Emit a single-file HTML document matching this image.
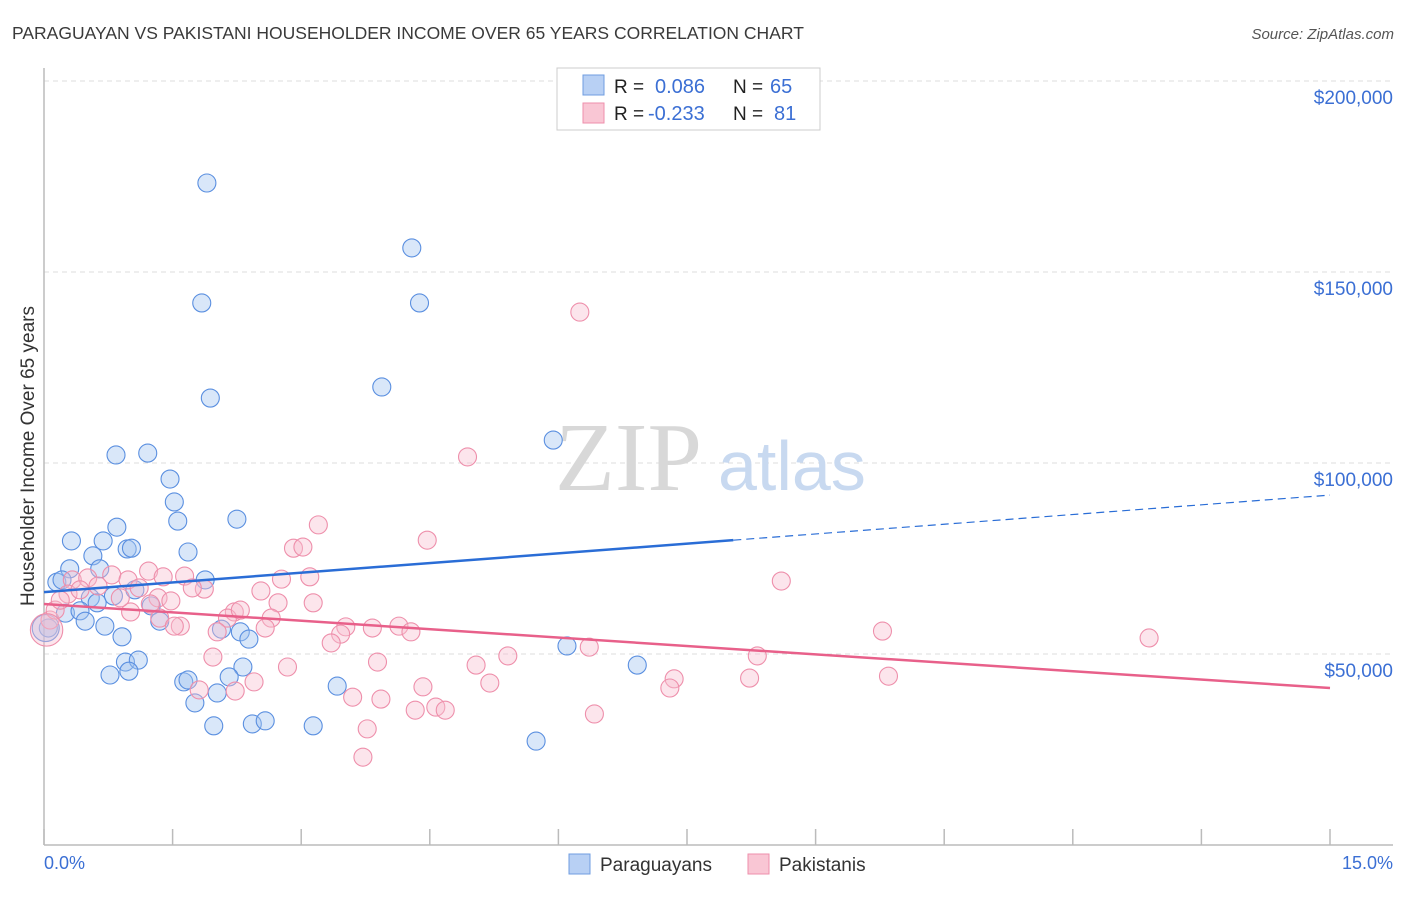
<!DOCTYPE html>
<html><head><meta charset="utf-8"><style>
body{margin:0;background:#fff;font-family:"Liberation Sans",sans-serif}
</style></head><body>
<svg width="1406" height="892" xmlns="http://www.w3.org/2000/svg" font-family="Liberation Sans, sans-serif">
<text x="12" y="39" font-size="17.5" fill="#3a3a3a">PARAGUAYAN VS PAKISTANI HOUSEHOLDER INCOME OVER 65 YEARS CORRELATION CHART</text>
<text x="1394" y="39" font-size="15" fill="#555" font-style="italic" text-anchor="end">Source: ZipAtlas.com</text>
<g id="grid"></g>
<text x="555" y="490" font-size="98" fill="#d8d8d8" font-family="Liberation Serif, serif">ZIP</text>
<text x="718" y="490" font-size="70" fill="#c8d9f0">atlas</text>
<line x1="44" y1="68" x2="44" y2="845" stroke="#bbb" stroke-width="1.5"/>
<line x1="44" y1="845" x2="1393" y2="845" stroke="#bbb" stroke-width="1.5"/>
<g id="ticks"></g>
<g id="pts"></g>
<g id="trend"></g>
<text x="28" y="456" dy="6" font-size="19" fill="#333" text-anchor="middle" transform="rotate(-90 28 456)">Householder Income Over 65 years</text>
<text x="44" y="869" font-size="18" fill="#3b6fd4">0.0%</text>
<text x="1393" y="869" font-size="18" fill="#3b6fd4" text-anchor="end">15.0%</text>
<g>
<rect x="557" y="68" width="263" height="62" fill="#fff" stroke="#ccc"/>
<rect x="583" y="75" width="21" height="20" fill="#b8d0f4" stroke="#6f9de0"/>
<rect x="583" y="103" width="21" height="20" fill="#f9c6d4" stroke="#ee8fab"/>
<text x="614" y="93" font-size="19" fill="#222">R = </text><text x="655" y="93" font-size="20" fill="#3b6fd4">0.086</text>
<text x="733" y="93" font-size="19" fill="#222">N = </text><text x="770" y="93" font-size="20" fill="#3b6fd4">65</text>
<text x="614" y="120" font-size="19" fill="#222">R = </text><text x="648" y="120" font-size="20" fill="#3b6fd4">-0.233</text>
<text x="733" y="120" font-size="19" fill="#222">N = </text><text x="774" y="120" font-size="20" fill="#3b6fd4">81</text>
</g>
<g>
<rect x="569" y="854" width="21" height="20" fill="#b8d0f4" stroke="#6f9de0"/>
<text x="600" y="871" font-size="19" fill="#333">Paraguayans</text>
<rect x="748" y="854" width="21" height="20" fill="#f9c6d4" stroke="#ee8fab"/>
<text x="779" y="871" font-size="19" fill="#333">Pakistanis</text>
</g>
</svg>
<script>
const yTicks=[50000,100000,150000,200000];
const yTickLabels=["$50,000","$100,000","$150,000","$200,000"];
const xTicks=[0,1.5,3,4.5,6,7.5,9,10.5,12,13.5,15];
const blueX=[1.90,4.29,1.84,4.38,3.94,1.94,5.94,0.84,1.21,1.47,1.52,1.56,2.25,0.85,0.32,0.69,0.57,0.97,1.02,1.68,0.30,0.65,0.15,0.21,1.88,1.06,0.54,0.81,0.62,1.25,0.25,0.42,0.48,1.35,0.71,0.05,2.07,2.29,2.39,0.91,6.10,0.95,1.10,2.32,6.92,0.77,0.99,2.16,1.63,1.68,3.42,2.02,1.76,1.98,2.43,2.58,3.14,5.74,0.02];
const blueY=[173.3,156.3,141.9,141.9,119.9,117.0,106.0,102.1,102.6,95.8,89.8,84.8,85.3,83.2,79.6,79.6,75.7,77.5,77.7,76.7,72.3,72.3,68.8,69.4,69.4,66.8,64.7,65.2,63.4,62.6,60.7,61.3,58.6,58.6,57.3,56.8,56.5,55.8,53.9,54.5,52.1,47.9,48.4,46.6,47.1,44.5,45.5,44.0,42.7,43.2,41.6,39.8,37.2,31.2,31.7,32.5,31.2,27.2,56.8];
const blueSize=[1,1,1,1,1,1,1,1,1,1,1,1,1,1,1,1,1,1,1,1,1,1,1,1,1,1,1,1,1,1,1,1,1,1,1,1,1,1,1,1,1,1,1,1,1,1,1,1,1,1,1,1,1,1,1,1,1,1,1.5];
const pinkX=[6.25,4.94,3.20,4.47,2.91,3.02,8.60,2.77,3.10,1.22,0.79,0.33,0.51,0.98,1.39,1.64,1.87,1.73,1.11,2.53,0.63,0.28,1.33,1.48,2.22,2.73,3.14,1.01,1.35,1.59,1.52,2.14,2.65,2.29,2.02,2.58,3.52,3.83,4.14,4.28,3.46,3.35,6.36,8.32,9.78,12.89,5.41,5.04,3.89,2.84,1.97,2.45,2.23,1.81,5.20,7.35,7.30,8.23,9.85,4.42,3.60,3.93,4.33,4.57,4.68,6.42,3.77,3.72,0.07,0.13,0.03,0.19,0.42,0.89,1.24];
const pinkY=[139.5,101.6,83.8,79.8,77.7,78.0,69.1,69.6,70.2,71.7,70.7,69.4,69.9,69.4,70.2,70.4,67.0,67.3,67.3,66.5,67.8,65.7,64.7,63.9,61.0,63.4,63.4,61.0,59.4,57.3,57.3,59.4,59.4,61.5,55.8,56.8,57.1,56.8,57.3,55.8,55.2,52.9,51.8,49.5,56.0,54.2,49.5,47.1,47.9,46.6,49.2,42.7,40.3,40.6,42.4,43.5,41.1,43.7,44.2,41.4,38.7,38.2,35.3,36.1,35.3,34.3,30.4,23.0,58.9,61.5,56.3,64.1,66.8,64.7,63.1];
const pinkSize=pinkX.map((v,i)=>i===70?1.8:1);
const blueTrend=[[0,66.2],[8.04,79.8],[15,91.6]];
const pinkTrend=[[0,63.1],[15,41.1]];
const X=p=>44+p*(1330-44)/15;
const Y=k=>845-k*1000*191/50000;
const NS="http://www.w3.org/2000/svg";
function mk(t,a,parent){const e=document.createElementNS(NS,t);for(const k in a)e.setAttribute(k,a[k]);parent.appendChild(e);return e;}
const grid=document.getElementById('grid');
yTicks.forEach((v,i)=>{const y=Y(v/1000);
const l=mk('line',{x1:44,x2:1393,y1:y,y2:y,stroke:'#ddd','stroke-dasharray':'5,4'},grid);


const t=mk('text',{x:1393,y:y+23,'font-size':19,fill:'#3b6fd4','text-anchor':'end'},grid);t.textContent=yTickLabels[i];

});
const ticks=document.getElementById('ticks');
xTicks.forEach(v=>{const l=mk('line',{x1:X(v),x2:X(v),y1:829,y2:845,stroke:'#bbb','stroke-width':1.5},ticks);

});
const pts=document.getElementById('pts');
blueX.forEach((x,i)=>{const c=mk('circle',{cx:X(x),cy:Y(blueY[i]),r:9*blueSize[i],fill:'rgba(160,195,240,0.4)',stroke:'#5a8fe0','stroke-width':1.1},pts);

});
pinkX.forEach((x,i)=>{const c=mk('circle',{cx:X(x),cy:Y(pinkY[i]),r:9*pinkSize[i],fill:'rgba(248,190,208,0.4)',stroke:'#ee8fab','stroke-width':1.1},pts);

});
const tr=document.getElementById('trend');
let l=mk('line',{x1:X(blueTrend[0][0]),y1:Y(blueTrend[0][1]),x2:X(blueTrend[1][0]),y2:Y(blueTrend[1][1]),stroke:'#2a6dd6','stroke-width':2.5},tr);


l=mk('line',{x1:X(blueTrend[1][0]),y1:Y(blueTrend[1][1]),x2:X(blueTrend[2][0]),y2:Y(blueTrend[2][1]),stroke:'#2a6dd6','stroke-width':1.2,'stroke-dasharray':'8,5'},tr);


l=mk('line',{x1:X(pinkTrend[0][0]),y1:Y(pinkTrend[0][1]),x2:X(pinkTrend[1][0]),y2:Y(pinkTrend[1][1]),stroke:'#e8608a','stroke-width':2.5},tr);


</script>
</body></html>
